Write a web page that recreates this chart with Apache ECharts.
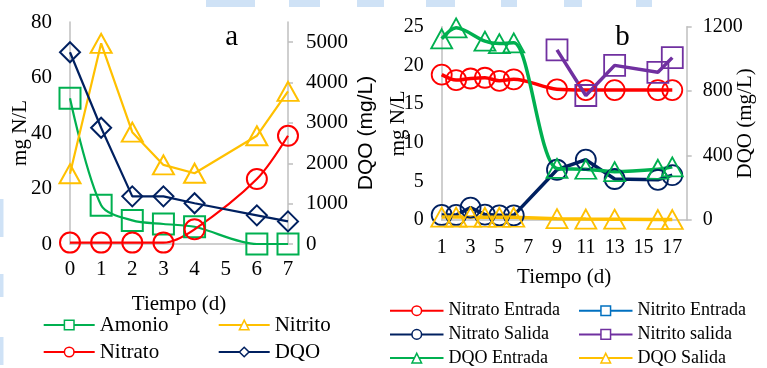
<!DOCTYPE html>
<html>
<head>
<meta charset="utf-8">
<script src="https://cdn.jsdelivr.net/npm/echarts@6/dist/echarts.min.js"></script>
<style>
html,body{margin:0;padding:0;background:#fff;}
#c{width:767px;height:368px;}
</style>
</head>
<body>
<div id="c"></div>
<script>
// ---------- Panel a data ----------
const daysA = [0, 1, 2, 3, 4, 6, 7];
const amonio = [52.5, 14, 8.5, 7.2, 6.2, 0, 0];
const nitrito = [25.3, 72.3, 40.3, 28.5, 25.5, 39, 55];
const nitrato = [0.5, 0.5, 0.5, 0.5, 5.3, 23.4, 39];
const dqo = [4750, 2880, 1180, 1180, 1010, 710, 560];

// ---------- Panel b data ----------
const daysB = [1, 2, 3, 4, 5, 6, 9, 11, 13, 16, 17];
const nitratoEntrada = [18.8, 18.1, 18.3, 18.4, 18.0, 18.2, 16.9, 16.8, 16.8, 16.8, 16.8];
const nitratoSalida = [0.65, 0.65, 1.6, 0.7, 0.6, 0.6, 6.5, 7.8, 5.3, 5.2, 5.8];
const daysNitritoSal = [9, 11, 13, 16, 17];
const nitritoSalida = [22.0, 16.1, 20.0, 19.1, 21.0];
const daysNitritoEnt = [];
const nitritoEntrada = [];
const daysDqoEnt = [1, 2, 4, 5, 6, 9, 11, 13, 16, 17];
const dqoEntrada = [1125, 1193, 1110, 1095, 1100, 320, 315, 300, 315, 330];
const dqoSalida = [18, 18, 18, 17, 17, 17, 8, 6, 5, 3, 3];

const zip = (xs, ys) => xs.map((x, i) => [x, ys[i]]);

const SERIF = 'Liberation Serif';
const SANS = 'Liberation Sans';
const GRAY = '#bfbfbf';

function mk(name, xi, yi, data, color, symbol, size, lw, bw, smooth) {
  return {
    name: name, type: 'line', xAxisIndex: xi, yAxisIndex: yi, data: data,
    symbol: symbol, symbolSize: size, smooth: smooth || false, clip: false,
    lineStyle: {color: color, width: lw},
    itemStyle: {color: 'rgba(0,0,0,0)', borderColor: color, borderWidth: bw},
    emphasis: {disabled: true}, animation: false
  };
}

// tick labels drawn with rich text so that the serif family is applied
const lab = (size, margin, extra) => Object.assign({
  margin: margin,
  formatter: v => '{s|' + v + '}',
  rich: {s: {fontFamily: SERIF, fontSize: size, color: '#000'}}
}, extra || {});
const axName = (text) => '{n|' + text + '}';
const nts = (fam) => ({fontFamily: fam, fontSize: 21, color: '#000', rich: {n: {fontFamily: fam, fontSize: 21, color: '#000'}}});

const bgRects = [
  [206, 0, 49, 7], [289, 0, 31, 7], [357, 0, 27, 7], [426, 0, 29, 7],
  [501, 0, 16, 7], [564, 0, 18, 7], [636, 0, 16, 7],
  [0, 199, 3.5, 38], [0, 274, 3.5, 23], [0, 337, 3.5, 28]
].map(r => ({type: 'rect', shape: {x: r[0], y: r[1], width: r[2], height: r[3]}, style: {fill: '#cfe2f6'}, z: -10, silent: true}));

const chart = echarts.init(document.getElementById('c'), null, {renderer: 'canvas'});
chart.setOption({
  animation: false,
  backgroundColor: '#fff',
  textStyle: {fontFamily: SERIF, color: '#000'},
  grid: [
    {left: 70, top: 22, width: 218, height: 222},
    {left: 441.7, top: 26.7, width: 245, height: 193.3}
  ],
  xAxis: [
    {type: 'value', gridIndex: 0, min: 0, max: 7, interval: 1,
     axisLine: {show: true, onZero: false, lineStyle: {color: GRAY, width: 1.5}},
     axisTick: {show: false}, splitLine: {show: false},
     axisLabel: lab(21, 15),
     name: axName('Tiempo (d)'), nameLocation: 'middle', nameGap: 50, nameMoveOverlap: false,
     nameTextStyle: nts(SERIF)},
    {type: 'value', gridIndex: 1, min: 1, max: 18, interval: 2,
     axisLine: {show: true, onZero: false, lineStyle: {color: GRAY, width: 1.5}},
     axisTick: {show: false}, splitLine: {show: false},
     axisLabel: lab(20, 18, {showMaxLabel: false}),
     name: axName('Tiempo (d)'), nameLocation: 'middle', nameGap: 47, nameMoveOverlap: false,
     nameTextStyle: nts(SERIF)}
  ],
  yAxis: [
    {type: 'value', gridIndex: 0, min: 0, max: 80, interval: 20,
     position: 'left',
     axisLine: {show: true, lineStyle: {color: GRAY, width: 1.5}},
     axisTick: {show: false}, splitLine: {show: false},
     axisLabel: lab(21, 18),
     name: axName('mg N/L'), nameLocation: 'middle', nameGap: 39, nameRotate: 90, nameMoveOverlap: false,
     nameTextStyle: nts(SERIF)},
    {type: 'value', gridIndex: 0, min: 0, max: 5500, interval: 1000,
     position: 'right',
     axisLine: {show: true, lineStyle: {color: GRAY, width: 1.5}},
     axisTick: {show: true, inside: false, length: 5, lineStyle: {color: GRAY, width: 1.5}},
     splitLine: {show: false},
     axisLabel: lab(21, 18, {showMaxLabel: false}),
     name: axName('DQO (mg/L)'), nameLocation: 'middle', nameGap: 68, nameRotate: 90, nameMoveOverlap: false,
     nameTextStyle: nts(SANS)},
    {type: 'value', gridIndex: 1, min: 0, max: 25, interval: 5,
     position: 'left',
     axisLine: {show: true, lineStyle: {color: GRAY, width: 1.5}},
     axisTick: {show: false}, splitLine: {show: false},
     axisLabel: lab(20, 18),
     name: axName('mg N/L'), nameLocation: 'middle', nameGap: 33, nameRotate: 90, nameMoveOverlap: false,
     nameTextStyle: nts(SERIF)},
    {type: 'value', gridIndex: 1, min: 0, max: 1200, interval: 400,
     position: 'right',
     axisLine: {show: true, lineStyle: {color: GRAY, width: 1.5}},
     axisTick: {show: true, inside: false, length: 5, lineStyle: {color: GRAY, width: 1.5}},
     splitLine: {show: false},
     axisLabel: lab(20, 16),
     name: axName('DQO (mg/L)'), nameLocation: 'middle', nameGap: 48, nameRotate: 90, nameMoveOverlap: false,
     nameTextStyle: nts(SERIF)}
  ],
  legend: [
    {data: ['Amonio', 'Nitrato'], left: 42.7, top: 314.5, orient: 'vertical', padding: 0, itemGap: 6,
     itemWidth: 51, itemHeight: 12, selectedMode: false,
     itemStyle: {color: '#fff', borderWidth: 1.5},
     textStyle: {fontFamily: SERIF, fontSize: 21, color: '#000'}},
    {data: ['Nitrito', 'DQO'], left: 217.7, top: 314.5, orient: 'vertical', padding: 0, itemGap: 6,
     itemWidth: 51, itemHeight: 12, selectedMode: false,
     itemStyle: {color: '#fff', borderWidth: 1.5},
     textStyle: {fontFamily: SERIF, fontSize: 21, color: '#000'}},
    {data: ['Nitrato Entrada', 'Nitrato Salida', 'DQO Entrada'], left: 389, top: 301.7, orient: 'vertical', padding: 0, itemGap: 5.7,
     itemWidth: 53.5, itemHeight: 12, selectedMode: false,
     itemStyle: {color: '#fff', borderWidth: 1.5},
     textStyle: {fontFamily: SERIF, fontSize: 18, color: '#000'}},
    {data: ['Nitrito Entrada', 'Nitrito salida', 'DQO Salida'], left: 578, top: 301.7, orient: 'vertical', padding: 0, itemGap: 5.7,
     itemWidth: 53.5, itemHeight: 12, selectedMode: false,
     itemStyle: {color: '#fff', borderWidth: 1.5},
     textStyle: {fontFamily: SERIF, fontSize: 18, color: '#000'}}
  ],
  graphic: bgRects.concat([
    {type: 'text', x: 231.7, y: 37, style: {text: 'a', font: '29px ' + SERIF, fill: '#000', textAlign: 'center', textVerticalAlign: 'middle'}},
    {type: 'text', x: 622.5, y: 37, style: {text: 'b', font: '29px ' + SERIF, fill: '#000', textAlign: 'center', textVerticalAlign: 'middle'}}
  ]),
  series: [
    mk('Amonio', 0, 0, zip(daysA, amonio), '#00b050', 'rect', 21, 2.2, 2, 0.3),
    mk('Nitrito', 0, 0, zip(daysA, nitrito), '#ffc000', 'triangle', [21, 19], 2.2, 2, false),
    mk('Nitrato', 0, 0, zip(daysA, nitrato), '#ff0000', 'circle', 20, 2.2, 2, 0.3),
    mk('DQO', 0, 1, zip(daysA, dqo), '#002060', 'diamond', 20, 2.2, 2, false),

    mk('Nitrato Entrada', 1, 2, zip(daysB, nitratoEntrada), '#ff0000', 'circle', 20, 3.5, 1.8, 0.3),
    mk('Nitrito Entrada', 1, 2, zip(daysNitritoEnt, nitritoEntrada), '#0070c0', 'rect', 21, 3.5, 1.8, false),
    mk('Nitrato Salida', 1, 2, zip(daysB, nitratoSalida), '#002060', 'circle', 20, 3.5, 1.8, false),
    mk('Nitrito salida', 1, 2, zip(daysNitritoSal, nitritoSalida), '#7030a0', 'rect', 21, 3.5, 1.8, false),
    mk('DQO Entrada', 1, 3, zip(daysDqoEnt, dqoEntrada), '#00b050', 'triangle', [21, 19], 3.5, 1.8, 0.3),
    mk('DQO Salida', 1, 3, zip(daysB, dqoSalida), '#ffc000', 'triangle', [21, 19], 3.5, 1.8, false)
  ]
});
</script>
</body>
</html>
